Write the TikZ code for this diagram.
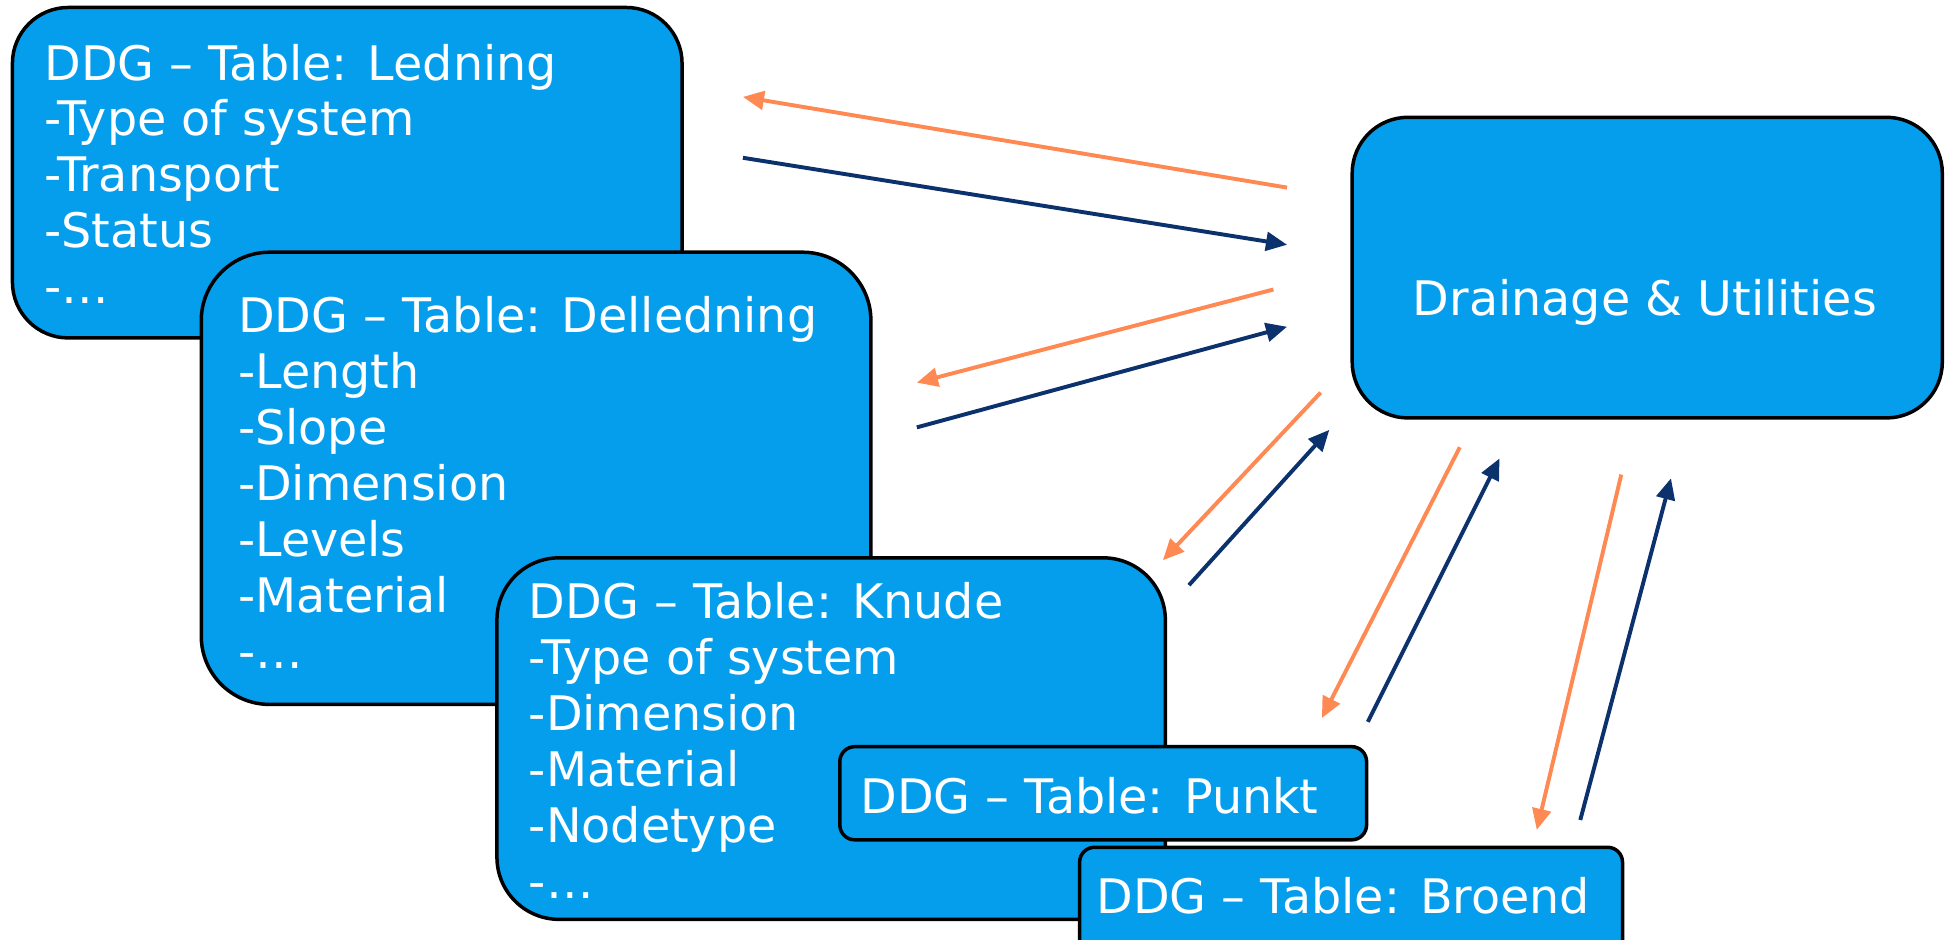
\documentclass[tikz,border=0pt]{standalone}
\usepackage{fontspec}
\setmainfont{DejaVu Sans}
\usetikzlibrary{arrows.meta}
\definecolor{boxblue}{RGB}{4,158,236}
\definecolor{arrorange}{RGB}{255,137,82}
\definecolor{arrnavy}{RGB}{12,50,110}
\newcommand{\txtfont}{\fontsize{10.9}{12.8}\selectfont}
\tikzset{
  tbox/.style={draw=black, line width=0.8pt, fill=boxblue},
  ln/.style={anchor=base west, text=white, font=\txtfont, inner sep=0pt},
  fromdu/.style={draw=arrorange, line width=0.9pt, -{Triangle[length=1.7mm,width=1.5mm]}},
  todu/.style={draw=arrnavy, line width=0.9pt, -{Triangle[length=1.7mm,width=1.5mm]}},
}
\begin{document}
\begin{tikzpicture}
\useasboundingbox (0,0) rectangle (15.68,-7.56);
\begin{scope}
\clip (0,0) rectangle (15.68,-7.56);
% Ledning
\draw[tbox, rounded corners=0.45cm] (0.10,-0.06) rectangle (5.49,-2.72);
\node[ln] (led1) at (0.35,-0.644) {DDG – Table: Ledning};
\node[ln] (led2) at (0.35,-1.094) {-Type of system};
\node[ln] (led3) at (0.35,-1.544) {-Transport};
\node[ln] (led4) at (0.35,-1.994) {-Status};
\node[ln] (led5) at (0.35,-2.444) {-…};
% Delledning
\draw[tbox, rounded corners=0.55cm] (1.62,-2.03) rectangle (7.01,-5.67);
\node[ln] (del1) at (1.91,-2.68) {DDG – Table: Delledning};
\node[ln] (del2) at (1.91,-3.13) {-Length};
\node[ln] (del3) at (1.91,-3.58) {-Slope};
\node[ln] (del4) at (1.91,-4.03) {-Dimension};
\node[ln] (del5) at (1.91,-4.48) {-Levels};
\node[ln] (del6) at (1.91,-4.93) {-Material};
\node[ln] (del7) at (1.91,-5.38) {-…};
% Knude
\draw[tbox, rounded corners=0.5cm] (4.00,-4.49) rectangle (9.38,-7.40);
\node[ln] (knu1) at (4.25,-4.98) {DDG – Table: Knude};
\node[ln] (knu2) at (4.25,-5.43) {-Type of system};
\node[ln] (knu3) at (4.25,-5.88) {-Dimension};
\node[ln] (knu4) at (4.25,-6.33) {-Material};
\node[ln] (knu5) at (4.25,-6.78) {-Nodetype};
\node[ln] (knu6) at (4.25,-7.23) {-…};
% Punkt
\draw[tbox, rounded corners=0.12cm] (6.76,-6.01) rectangle (11.00,-6.76);
\node[ln] (pun1) at (6.92,-6.55) {DDG – Table: Punkt};
% Broend
\draw[tbox, rounded corners=0.12cm] (8.69,-6.82) rectangle (13.06,-7.70);
\node[ln] (bro1) at (8.82,-7.35) {DDG – Table: Broend};
% Drainage & Utilities
\node[tbox, rounded corners=0.45cm, minimum width=4.75cm, minimum height=2.42cm, anchor=north west, inner sep=0pt] (du) at (10.87,-0.93) {};
\node[text=white, font=\txtfont, inner sep=0pt] (dut) at (13.24,-2.43) {Drainage \& Utilities};
\end{scope}
% arrow end points
\coordinate (a1s) at (10.36,-1.51); \coordinate (a1e) at (5.98,-0.78);
\coordinate (b1s) at (5.98,-1.27);  \coordinate (b1e) at (10.36,-1.97);
\coordinate (a2s) at (10.25,-2.33); \coordinate (a2e) at (7.38,-3.08);
\coordinate (b2s) at (7.38,-3.44);  \coordinate (b2e) at (10.36,-2.63);
\coordinate (a3s) at (10.63,-3.16); \coordinate (a3e) at (9.36,-4.51);
\coordinate (b3s) at (9.57,-4.71);  \coordinate (b3e) at (10.70,-3.46);
\coordinate (a4s) at (11.75,-3.60); \coordinate (a4e) at (10.64,-5.78);
\coordinate (b4s) at (11.01,-5.81); \coordinate (b4e) at (12.07,-3.69);
\coordinate (a5s) at (13.05,-3.82); \coordinate (a5e) at (12.37,-6.68);
\coordinate (b5s) at (12.72,-6.60); \coordinate (b5e) at (13.45,-3.85);
\draw[fromdu] (a1s) -- (a1e);
\draw[todu] (b1s) -- (b1e);
\draw[fromdu] (a2s) -- (a2e);
\draw[todu] (b2s) -- (b2e);
\draw[fromdu] (a3s) -- (a3e);
\draw[todu] (b3s) -- (b3e);
\draw[fromdu] (a4s) -- (a4e);
\draw[todu] (b4s) -- (b4e);
\draw[fromdu] (a5s) -- (a5e);
\draw[todu] (b5s) -- (b5e);
\end{tikzpicture}
\end{document}
